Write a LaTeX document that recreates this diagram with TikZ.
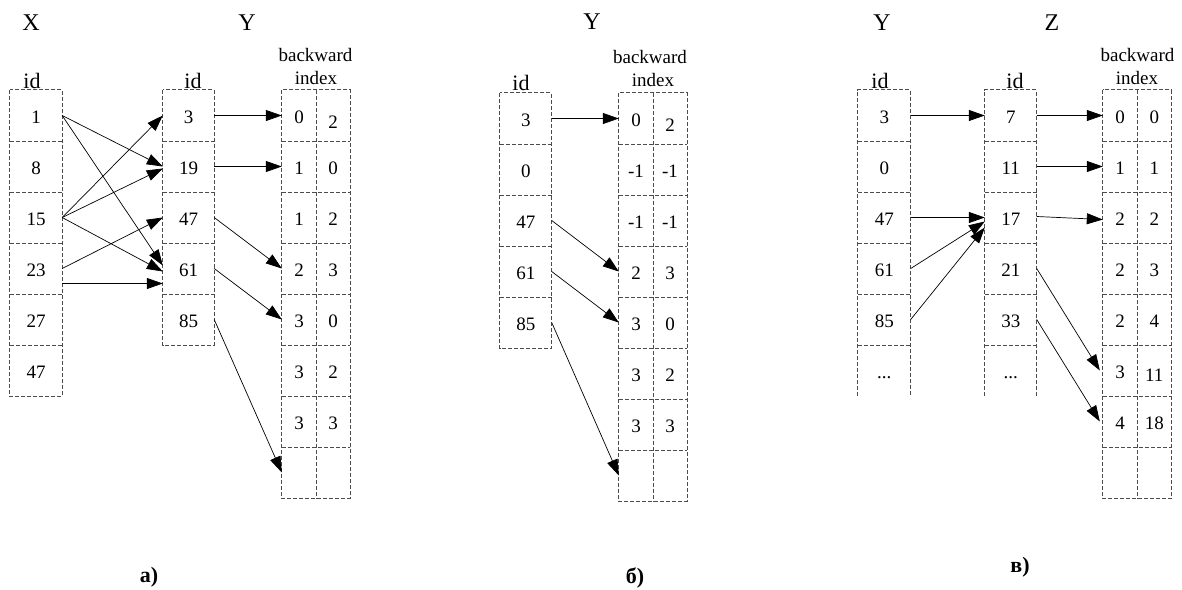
\documentclass[tikz,border=0pt]{standalone}
\usepackage{fontspec}
\setmainfont{Liberation Serif}
\usetikzlibrary{arrows.meta,calc}
\newcommand\mydots{...}
\tikzset{
 cellbox/.style={minimum width=#1, minimum height=51pt, inner sep=0pt, text height=15pt, text depth=0pt, font=\fontsize{19}{19}\selectfont},
 grid/.style={draw=black!70, line width=0.7pt, dash pattern=on 4pt off 2pt},
 arr/.style={line width=0.7pt, -{Triangle[length=16pt,width=11pt]}},
 ttl/.style={font=\fontsize{24}{24}\selectfont, anchor=base, inner sep=0pt},
 idlab/.style={font=\fontsize{22}{22}\selectfont, anchor=base, inner sep=0pt},
 bwlab/.style={font=\fontsize{19}{19}\selectfont, anchor=base, inner sep=0pt},
 panlab/.style={font=\bfseries\fontsize{22}{22}\selectfont, anchor=base, inner sep=0pt}
}
\begin{document}
\begin{tikzpicture}[x=1pt,y=-1pt]
\useasboundingbox (0,0) rectangle (1182,589);
% ================= panel a =================
\node[ttl] (aX) at (31,30) {X};
\node[ttl] (aY) at (247,30) {Y};
\node[idlab] (aidx) at (32,88) {id};
\node[idlab] (aidy) at (193,88) {id};
\node[bwlab] (abw) at (315.5,61.5) {backward};
\node[bwlab] (aix) at (316,84) {index};
\foreach \v [count=\i] in {1,8,15,23,27,47}
  \node[cellbox=52pt] (ax\i) at (36,{64.5+51*\i}) {\v};
\foreach \v [count=\i] in {3,19,47,61,85}
  \node[cellbox=51pt] (ay\i) at (188.5,{64.5+51*\i}) {\v};
\foreach \l/\r [count=\i] in {0/\raisebox{-5pt}{2},1/0,1/2,2/3,3/0,3/2,3/3,{}/{}}{
  \node[cellbox=34pt] (abl\i) at (299,{64.5+51*\i}) {\l};
  \node[cellbox=34pt] (abr\i) at (333,{64.5+51*\i}) {\r};
}
\draw[grid] (ax1.north west) rectangle (ax6.south east);
\foreach \i in {1,...,5} \draw[grid] (ax\i.south west) -- (ax\i.south east);
\draw[grid] (ay1.north west) rectangle (ay5.south east);
\foreach \i in {1,...,4} \draw[grid] (ay\i.south west) -- (ay\i.south east);
\draw[grid] (abl1.north west) rectangle (abr8.south east);
\draw[grid] (abl1.north east) -- (abl8.south east);
\foreach \i in {1,...,7} \draw[grid] (abl\i.south west) -- (abr\i.south east);
% arrows a
\draw[arr] (ax1.east) -- (ay2.west);
\draw[arr] (ax1.east) -- ($(ay4.west)+(0,-3)$);
\draw[arr] (ax3.east) -- (ay1.west);
\draw[arr] (ax3.east) -- ($(ay2.west)+(0,2)$);
\draw[arr] (ax3.east) -- ($(ay4.west)+(0,3)$);
\draw[arr] (ax4.east) -- (ay3.west);
\draw[arr] ($(ax4.east)+(0,15)$) -- ($(ay4.west)+(0,15)$);
\draw[arr] (ay1.east) -- (abl1.west);
\draw[arr] (ay2.east) -- (abl2.west);
\draw[arr] (ay3.east) -- (abl4.west);
\draw[arr] (ay4.east) -- (abl5.west);
\draw[arr] (ay5.east) -- (abl8.west);
\node[panlab] (pa) at (149,582) {а)};
% ================= panel b =================
\node[ttl] (bY) at (592,29.5) {Y};
\node[idlab] (bidy) at (521,90) {id};
\node[bwlab] (bbw) at (650,63.5) {backward};
\node[bwlab] (bix) at (653,86) {index};
\foreach \v [count=\i] in {3,0,47,61,85}
  \node[cellbox=51.5pt] (by\i) at (525.75,{67.5+51*\i}) {\v};
\foreach \l/\r [count=\i] in {0/\raisebox{-5pt}{2},-1/-1,-1/-1,2/3,3/0,3/2,3/3,{}/{}}{
  \node[cellbox=34pt] (bbl\i) at (636,{67.5+51*\i}) {\l};
  \node[cellbox=34pt] (bbr\i) at (670,{67.5+51*\i}) {\r};
}
\draw[grid] (by1.north west) rectangle (by5.south east);
\foreach \i in {1,...,4} \draw[grid] (by\i.south west) -- (by\i.south east);
\draw[grid] (bbl1.north west) rectangle (bbr8.south east);
\draw[grid] (bbl1.north east) -- (bbl8.south east);
\foreach \i in {1,...,7} \draw[grid] (bbl\i.south west) -- (bbr\i.south east);
\draw[arr] (by1.east) -- (bbl1.west);
\draw[arr] (by3.east) -- (bbl4.west);
\draw[arr] (by4.east) -- (bbl5.west);
\draw[arr] (by5.east) -- (bbl8.west);
\node[panlab] (pb) at (635,583) {б)};
% ================= panel c =================
\node[ttl] (cY) at (882,30) {Y};
\node[ttl] (cZ) at (1052,30) {Z};
\node[idlab] (cidy) at (880,88) {id};
\node[idlab] (cidz) at (1015,88) {id};
\node[bwlab] (cbw) at (1137.5,61.5) {backward};
\node[bwlab] (cix) at (1137,84) {index};
\foreach \v [count=\i] in {3,0,47,61,85,\mydots}
  \node[cellbox=52.5pt] (cy\i) at (884.25,{64.5+51*\i}) {\v};
\foreach \v [count=\i] in {7,11,17,21,33,\mydots}
  \node[cellbox=51.5pt] (cz\i) at (1010.75,{64.5+51*\i}) {\v};
\foreach \l/\r [count=\i] in {0/0,1/1,2/2,2/3,2/4,3/\raisebox{-3pt}{11},4/18,{}/{}}{
  \node[cellbox=34pt] (ccl\i) at (1120,{64.5+51*\i}) {\l};
  \node[cellbox=34.5pt] (ccr\i) at (1154.25,{64.5+51*\i}) {\r};
}
\draw[grid] (cy6.south west) -- (cy1.north west) -- (cy1.north east) -- (cy6.south east);
\foreach \i in {1,...,5} \draw[grid] (cy\i.south west) -- (cy\i.south east);
\draw[grid] (cz6.south west) -- (cz1.north west) -- (cz1.north east) -- (cz6.south east);
\foreach \i in {1,...,5} \draw[grid] (cz\i.south west) -- (cz\i.south east);
\draw[grid] (ccl1.north west) rectangle (ccr8.south east);
\draw[grid] (ccl1.north east) -- (ccl8.south east);
\foreach \i in {1,...,7} \draw[grid] (ccl\i.south west) -- (ccr\i.south east);
\draw[arr] (cy1.east) -- (cz1.west);
\draw[arr] (cy3.east) -- (cz3.west);
\draw[arr] (cy4.east) -- ($(cz3.west)+(0,4)$);
\draw[arr] (cy5.east) -- ($(cz3.west)+(0,10)$);
\draw[arr] (cz1.east) -- (ccl1.west);
\draw[arr] (cz2.east) -- (ccl2.west);
\draw[arr] ($(cz3.east)+(0,-1)$) -- ($(ccl3.west)+(0,2)$);
\draw[arr] (cz4.east) -- ($(ccl6.west)+(-3,0)$);
\draw[arr] (cz5.east) -- ($(ccl7.west)+(-3,0)$);
\node[panlab] (pc) at (1020,572) {в)};
\end{tikzpicture}
\end{document}
